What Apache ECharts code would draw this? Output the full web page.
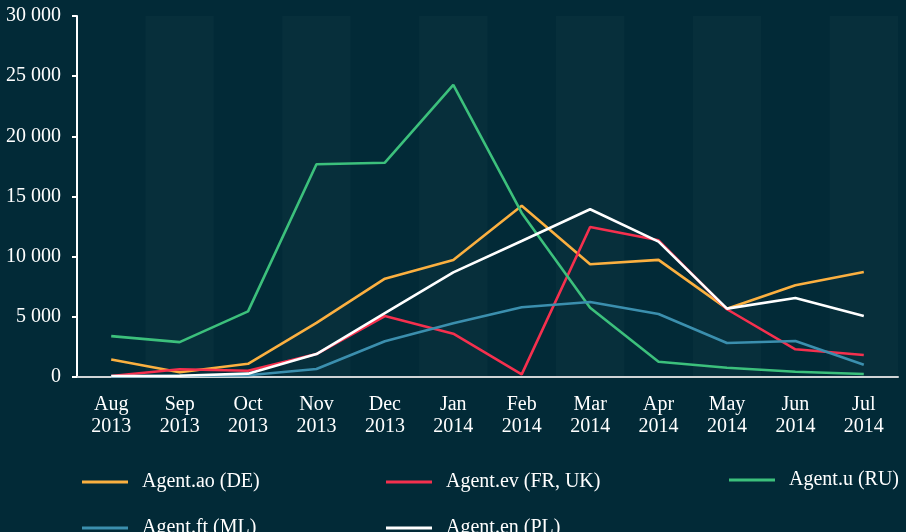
<!DOCTYPE html>
<html>
<head>
<meta charset="utf-8">
<script src="https://cdn.jsdelivr.net/npm/echarts@6/dist/echarts.min.js"></script>
<style>
  html, body { margin: 0; padding: 0; background: #022a37; }
  #chart { width: 906px; height: 532px; }
</style>
</head>
<body>
<div id="chart"></div>
<script>
// categories
const months = ['Aug\n2013', 'Sep\n2013', 'Oct\n2013', 'Nov\n2013', 'Dec\n2013', 'Jan\n2014',
                'Feb\n2014', 'Mar\n2014', 'Apr\n2014', 'May\n2014', 'Jun\n2014', 'Jul\n2014'];

// series values
const agentAo = [1450, 400, 1100, 4500, 8170, 9730, 14240, 9370, 9730, 5680, 7620, 8730];
const agentEv = [80, 640, 520, 1910, 5070, 3600, 220, 12470, 11360, 5630, 2300, 1830];
const agentU  = [3400, 2900, 5450, 17680, 17810, 24270, 13630, 5760, 1270, 770, 440, 250];
const agentFt = [50, 100, 150, 660, 2970, 4460, 5790, 6230, 5240, 2830, 2990, 1020];
const agentEn = [80, 100, 280, 1910, 5300, 8700, 11300, 13940, 11250, 5680, 6570, 5070];

// y ticks
const yMin = 0, yMax = 30000, yStep = 5000;

const serif = '"Liberation Serif", "DejaVu Serif", serif';

const lines = [
  { name: 'Agent.ao (DE)',     data: agentAo, color: '#fbb040' },
  { name: 'Agent.ev (FR, UK)', data: agentEv, color: '#f5304e' },
  { name: 'Agent.u (RU)',      data: agentU,  color: '#3cc07c' },
  { name: 'Agent.ft (ML)',     data: agentFt, color: '#3b8fae' },
  { name: 'Agent.en (PL)',     data: agentEn, color: '#ffffff' }
];

// one legend per item so each sits where the reference has it
const legendPos = [[82, 472], [386, 472], [729, 470], [82, 518], [386, 518]];

const myChart = echarts.init(document.getElementById('chart'));
myChart.setOption({
  backgroundColor: '#022a37',
  animation: false,
  grid: { left: 77, right: 8, top: 16, bottom: 155, containLabel: false },
  legend: lines.map((l, i) => ({
    data: [l.name],
    left: legendPos[i][0],
    top: legendPos[i][1],
    padding: 0,
    icon: 'rect',
    itemWidth: 46,
    itemHeight: 3,
    selectedMode: false,
    textStyle: { color: '#ffffff', fontFamily: serif, fontSize: 20, padding: [0, 0, 0, 9] }
  })),
  xAxis: {
    type: 'category',
    data: months,
    boundaryGap: true,
    axisLine: { lineStyle: { color: '#d0d4d6', width: 2 } },
    axisTick: { alignWithLabel: true, length: 7, lineStyle: { color: '#d0d4d6', width: 2 } },
    axisLabel: { color: '#ffffff', fontFamily: serif, fontSize: 20, lineHeight: 22, margin: 17 },
    splitLine: { show: false },
    splitArea: { show: true, areaStyle: { color: ['rgba(0,0,0,0)', 'rgba(255,255,255,0.022)'] } }
  },
  yAxis: {
    type: 'value',
    min: yMin,
    max: yMax,
    interval: yStep,
    axisLine: { show: true, lineStyle: { color: '#ffffff', width: 2 } },
    axisTick: { show: true, length: 5, lineStyle: { color: '#ffffff', width: 2 } },
    axisLabel: {
      color: '#ffffff', fontFamily: serif, fontSize: 20, margin: 16,
      formatter: v => String(v).replace(/\B(?=(\d{3})+(?!\d))/g, ' ')
    },
    splitLine: { show: false }
  },
  series: lines.map(l => ({
    name: l.name,
    type: 'line',
    data: l.data,
    symbol: 'none',
    color: l.color,
    lineStyle: { width: 2.6, color: l.color }
  }))
});
</script>
</body>
</html>
